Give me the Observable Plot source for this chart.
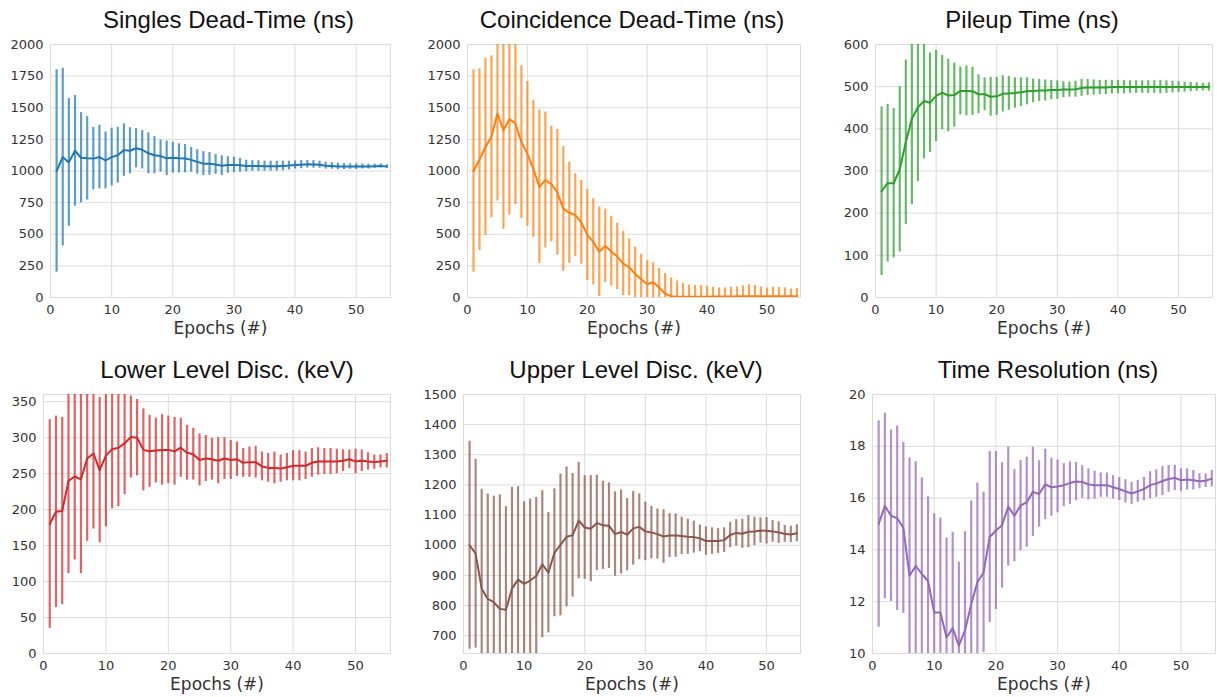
<!DOCTYPE html>
<html>
<head>
<meta charset="utf-8">
<script src="https://cdn.jsdelivr.net/npm/d3@7"></script>
<script src="https://cdn.jsdelivr.net/npm/@observablehq/plot@0.6"></script>
<style>
  body { margin: 0; background: #fff; }
  #chart { position: relative; width: 1217px; height: 697px; background: #fff; }
  #chart svg { position: absolute; }
</style>
</head>
<body>
<div id="chart"></div>
<script>
// Training epochs shared by every panel
const epochs = d3.range(1, 56);
const xTicks = [0, 10, 20, 30, 40, 50];

// Singles dead-time (ns): mean and one standard deviation per epoch
const singlesMean = [1000,1110,1068,1160,1105,1100,1098,1110,1083,1110,1125,1165,1160,1180,1168,1140,1125,1118,1100,1105,1100,1098,1088,1072,1058,1057,1052,1042,1048,1048,1045,1040,1040,1040,1038,1038,1038,1040,1043,1048,1050,1053,1052,1050,1042,1040,1036,1035,1035,1035,1035,1035,1038,1040,1035];
const singlesErr  = [800,703,505,437,357,330,247,252,225,228,220,207,182,155,152,162,147,127,137,122,115,112,97,97,95,90,78,78,65,60,55,45,42,42,40,40,38,38,35,32,32,30,30,28,27,26,25,24,22,22,20,19,17,15,14];

// Coincidence dead-time (ns)
const coincMean = [1000,1090,1190,1270,1455,1322,1410,1376,1228,1136,1016,875,928,897,831,700,670,652,594,495,440,362,408,366,325,268,240,185,145,105,120,80,30,10,6,6,6,6,6,6,8,8,8,8,9,10,10,10,10,10,10,10,10,10,10];
const coincErr  = [800,718,700,640,692,782,758,642,604,572,540,607,538,457,497,494,400,326,331,360,341,354,290,275,262,255,224,212,197,186,155,150,160,145,125,105,92,88,88,82,72,68,68,72,75,82,90,85,72,65,70,68,66,58,62];

// Pileup time (ns)
const pileupMean = [252,271,271,304,368,424,451,466,462,478,486,479,480,490,490,489,482,482,476,477,483,484,485,487,489,490,491,491,492,492,493,493,494,497,498,498,498,498,499,499,499,499,499,499,499,499,499,499,499,499,499,499,499,499,499];
const pileupErr  = [200,187,177,196,195,204,176,137,118,108,88,86,76,57,59,57,46,39,46,45,43,40,36,34,32,28,26,25,23,22,19,18,19,20,19,18,17,17,16,16,16,15,15,15,15,15,16,15,14,13,12,11,10,9,10];

// Lower level discriminator (keV)
const lldMean = [180,197,198,240,246,242,271,278,255,275,284,286,292,301,300,283,281,282,283,283,281,286,279,277,269,271,270,268,271,269,270,265,266,266,260,258,258,257,259,261,261,261,265,267,267,267,267,268,270,267,268,267,266,267,268];
const lldErr  = [145,133,130,129,116,131,115,105,101,99,83,82,71,57,53,57,50,45,49,47,47,41,38,36,36,32,29,32,29,27,24,20,21,22,20,20,22,19,19,21,21,19,20,19,18,18,17,15,13,17,15,12,10,9,10];

// Upper level discriminator (keV)
const uldMean = [1000,972,856,822,811,789,786,856,886,872,883,898,937,909,975,1001,1028,1033,1082,1059,1055,1074,1066,1065,1037,1044,1035,1056,1061,1046,1042,1037,1029,1032,1032,1031,1028,1027,1023,1014,1014,1014,1017,1034,1041,1038,1045,1046,1049,1048,1046,1042,1038,1036,1040];
const uldErr  = [345,313,330,348,352,378,342,336,308,272,270,261,244,200,212,235,232,205,193,172,176,158,146,142,140,139,120,122,109,97,87,83,89,73,72,62,58,53,44,47,44,41,41,42,44,48,53,47,42,44,36,36,28,27,28];

// Time resolution (ns)
const timeResMean = [15.0,15.7,15.32,15.22,14.85,13.0,13.38,13.07,12.8,11.58,11.58,10.62,10.98,10.3,10.9,11.9,12.75,13.13,14.5,14.75,14.95,15.67,15.32,15.71,15.84,16.24,16.16,16.53,16.42,16.45,16.5,16.58,16.64,16.62,16.53,16.5,16.5,16.5,16.42,16.35,16.26,16.18,16.26,16.35,16.5,16.56,16.66,16.74,16.78,16.69,16.72,16.69,16.65,16.67,16.75];
const timeResErr  = [3.98,3.58,3.31,3.56,3.3,4.55,4.03,3.71,3.25,3.81,3.65,3.84,3.7,3.22,3.8,3.99,3.83,3.1,3.3,3.05,2.42,2.3,1.78,1.74,1.74,1.72,1.28,1.36,1.12,1.02,0.83,0.82,0.74,0.63,0.6,0.54,0.47,0.47,0.45,0.44,0.45,0.43,0.42,0.45,0.52,0.53,0.56,0.52,0.49,0.44,0.41,0.38,0.29,0.26,0.32];

// Panel titles and y axis settings
const titles = ["Singles Dead-Time (ns)", "Coincidence Dead-Time (ns)", "Pileup Time (ns)",
                "Lower Level Disc. (keV)", "Upper Level Disc. (keV)", "Time Resolution (ns)"];
const yDomains = [[0, 2000], [0, 2000], [0, 600], [0, 360], [641, 1500], [10, 20]];
const yTicks = [
  d3.range(0, 2001, 250), d3.range(0, 2001, 250), d3.range(0, 601, 100),
  d3.range(0, 351, 50), d3.range(700, 1501, 100), d3.range(10, 21, 2)
];
const colors = ["#1f77b4", "#ff7f0e", "#2ca02c", "#d62728", "#8c564b", "#9467bd"];
const means = [singlesMean, coincMean, pileupMean, lldMean, uldMean, timeResMean];
const errs  = [singlesErr, coincErr, pileupErr, lldErr, uldErr, timeResErr];

// Placement of each small-multiple SVG on the page
const boxes = [
  {left: 0,   top: 0,   width: 395, ml: 50, mr: 5, frameH: 253, titleDx: 8},
  {left: 405, top: 0,   width: 400, ml: 62, mr: 5, frameH: 253, titleDx: -2},
  {left: 810, top: 0,   width: 407, ml: 65, mr: 5, frameH: 253, titleDx: -12},
  {left: 0,   top: 350, width: 395, ml: 43, mr: 5, frameH: 259, titleDx: 10},
  {left: 405, top: 350, width: 400, ml: 58, mr: 5, frameH: 259, titleDx: 4},
  {left: 810, top: 350, width: 407, ml: 62, mr: 2, frameH: 259, titleDx: 4}
];

const gridColor = "#dcdcdc";
const chart = document.getElementById("chart");

titles.forEach((title, k) => {
  const rows = epochs.map((e, i) => ({
    epoch: e,
    mean: means[k][i],
    lo: means[k][i] - errs[k][i],
    hi: means[k][i] + errs[k][i]
  }));
  const b = boxes[k];
  const mt = 44, mb = 44;
  const svg = Plot.plot({
    width: b.width,
    height: mt + b.frameH + mb,
    marginTop: mt,
    marginBottom: mb,
    marginLeft: b.ml,
    marginRight: b.mr,
    style: {fontFamily: "'DejaVu Sans', sans-serif", fontSize: "13px", color: "#333", background: "transparent"},
    x: {domain: [0, 55.6]},
    y: {domain: yDomains[k]},
    marks: [
      Plot.gridX(xTicks, {stroke: gridColor, strokeOpacity: 1}),
      Plot.gridY(yTicks[k], {stroke: gridColor, strokeOpacity: 1}),
      Plot.frame({stroke: gridColor}),
      Plot.ruleX(rows, {x: "epoch", y1: "lo", y2: "hi", stroke: colors[k], strokeWidth: 2.2, strokeOpacity: 0.72, clip: true}),
      Plot.line(rows, {x: "epoch", y: "mean", stroke: colors[k], strokeWidth: 2, clip: true}),
      Plot.axisX({ticks: xTicks, tickSize: 0, tickPadding: 7, tickFormat: "d", label: null}),
      Plot.axisY({ticks: yTicks[k], tickSize: 0, tickPadding: 7, tickFormat: "d", label: null}),
      Plot.text([title], {frameAnchor: "top", lineAnchor: "bottom", dy: -17, dx: b.titleDx,
        fontSize: 24, fontFamily: "'Liberation Sans', Arial, sans-serif", fill: "#111"}),
      Plot.text(["Epochs (#)"], {frameAnchor: "bottom", lineAnchor: "bottom", dy: 36,
        fontSize: 17, fill: "#333"})
    ]
  });
  svg.style.left = b.left + "px";
  svg.style.top = b.top + "px";
  chart.appendChild(svg);
});
</script>
</body>
</html>
